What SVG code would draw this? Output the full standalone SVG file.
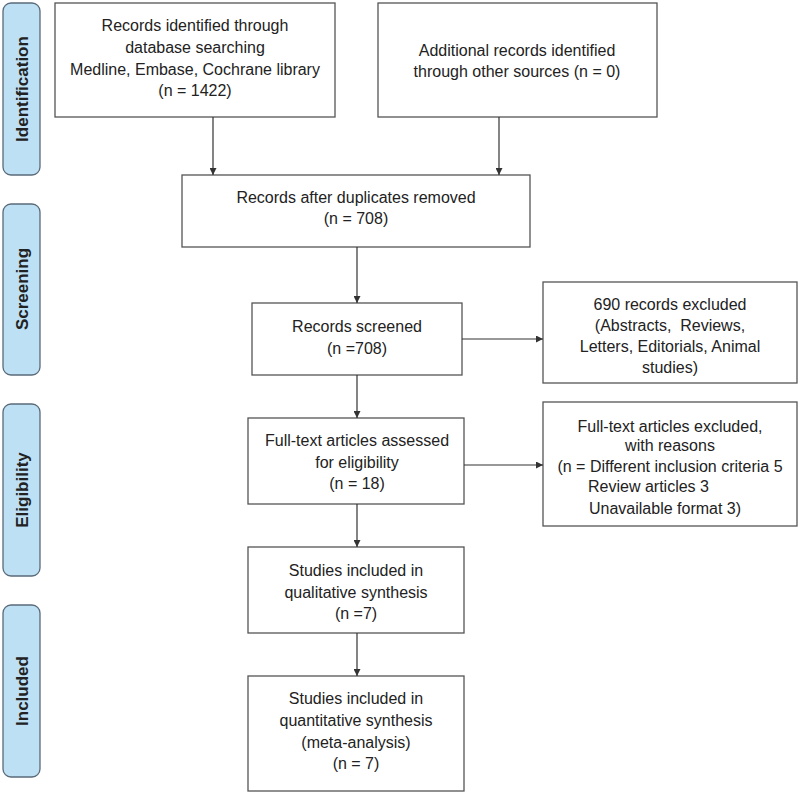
<svg xmlns="http://www.w3.org/2000/svg" width="800" height="794" viewBox="0 0 800 794">
<style>
.box{fill:#fff;stroke:#555;stroke-width:1.3}
.side{fill:#bde0f5;stroke:#5a6a78;stroke-width:1.3}
.t{font-family:"Liberation Sans",Arial,sans-serif;font-size:16px;fill:#222;text-anchor:middle}
.s{font-family:"Liberation Sans",Arial,sans-serif;font-size:17px;font-weight:bold;fill:#222;text-anchor:middle}
.c{stroke:#333;stroke-width:1.2;fill:none;marker-end:url(#ah)}
</style>
<defs>
<marker id="ah" viewBox="0 0 8 8" refX="8" refY="4" markerWidth="7" markerHeight="7" markerUnits="userSpaceOnUse" orient="auto">
<path d="M0,0 L8,4 L0,8 z" fill="#333"/>
</marker>
</defs>
<rect width="800" height="794" fill="#fff"/>
<g id="side-identification"><rect class="side" x="3" y="3" width="37" height="172" rx="8"/><text class="s" transform="translate(28,89) rotate(-90)">Identification</text></g>
<g id="side-screening"><rect class="side" x="3" y="204" width="37" height="171" rx="8"/><text class="s" transform="translate(28,289) rotate(-90)">Screening</text></g>
<g id="side-eligibility"><rect class="side" x="3" y="404" width="37" height="172" rx="8"/><text class="s" transform="translate(28,490) rotate(-90)">Eligibility</text></g>
<g id="side-included"><rect class="side" x="3" y="605" width="37" height="172" rx="8"/><text class="s" transform="translate(28,691) rotate(-90)">Included</text></g>

<g id="n-db"><rect class="box" x="55" y="3" width="280" height="114"/>
<text class="t" x="195" y="31">Records identified through</text>
<text class="t" x="195" y="53">database searching</text>
<text class="t" x="195" y="75">Medline, Embase, Cochrane library</text>
<text class="t" x="195" y="96">(n = 1422)</text></g>
<g id="n-other"><rect class="box" x="378" y="3" width="279" height="114"/>
<text class="t" x="517" y="56">Additional records identified</text>
<text class="t" x="517" y="77">through other sources (n = 0)</text></g>
<g id="n-dup"><rect class="box" x="182" y="175" width="348" height="72"/>
<text class="t" x="356" y="203">Records after duplicates removed</text>
<text class="t" x="356" y="224">(n = 708)</text></g>
<g id="n-screened"><rect class="box" x="252" y="303" width="210" height="72"/>
<text class="t" x="357" y="332">Records screened</text>
<text class="t" x="357" y="354">(n =708)</text></g>
<g id="n-excl1"><rect class="box" x="543" y="282" width="254" height="101"/>
<text class="t" x="670" y="310">690 records excluded</text>
<text class="t" x="670" y="331">(Abstracts,&#160; Reviews,</text>
<text class="t" x="670" y="352">Letters, Editorials, Animal</text>
<text class="t" x="670" y="373">studies)</text></g>
<g id="n-fulltext"><rect class="box" x="248" y="418" width="216" height="86"/>
<text class="t" x="357" y="446">Full-text articles assessed</text>
<text class="t" x="357" y="468">for eligibility</text>
<text class="t" x="357" y="489">(n = 18)</text></g>
<g id="n-excl2"><rect class="box" x="543" y="402" width="254" height="124"/>
<text class="t" x="670" y="432">Full-text articles excluded,</text>
<text class="t" x="670" y="451">with reasons</text>
<text class="t" x="670" y="472">(n = Different inclusion criteria 5</text>
<text class="t" x="588" y="492" style="text-anchor:start">Review articles 3</text>
<text class="t" x="589" y="514" style="text-anchor:start">Unavailable format 3)</text></g>
<g id="n-qual"><rect class="box" x="248" y="547" width="216" height="86"/>
<text class="t" x="356" y="576">Studies included in</text>
<text class="t" x="356" y="598">qualitative synthesis</text>
<text class="t" x="356" y="619">(n =7)</text></g>
<g id="n-quant"><rect class="box" x="248" y="676" width="216" height="115"/>
<text class="t" x="356" y="704">Studies included in</text>
<text class="t" x="356" y="726">quantitative synthesis</text>
<text class="t" x="356" y="748">(meta-analysis)</text>
<text class="t" x="356" y="769">(n = 7)</text></g>

<g id="connectors">
<path class="c" d="M213,117 V175"/>
<path class="c" d="M499,117 V175"/>
<path class="c" d="M357,247 V303"/>
<path class="c" d="M462,339 H543"/>
<path class="c" d="M357,375 V418"/>
<path class="c" d="M464,465 H543"/>
<path class="c" d="M357,504 V547"/>
<path class="c" d="M357,633 V676"/>
</g>
</svg>
